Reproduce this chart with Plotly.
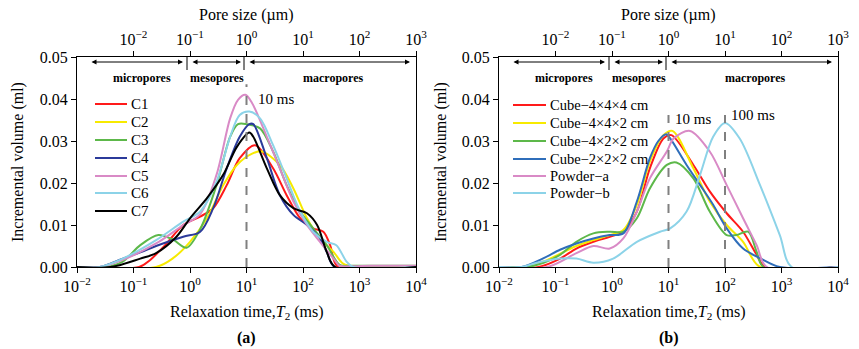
import plotly.graph_objects as go

W, H = 859, 349
FONT = "Liberation Serif"

# ---------------- data: panel (a) ----------------
a_names = ["C1", "C2", "C3", "C4", "C5", "C6", "C7"]
a_colors = ["#FF1A1A", "#F7EA00", "#5DB84A", "#2B3A9A", "#D98AC6", "#8CD3E8", "#000000"]

c1_logt2 = [-2, -0.9, -0.72, -0.44, -0.12, 0.18, 0.41, 0.65, 0.88, 1.15, 1.47, 1.71, 1.95, 2.18, 2.36, 2.48, 2.62, 4]
c1_vol = [0, 0, 0.0015, 0.0052, 0.010, 0.012, 0.014, 0.0195, 0.0259, 0.029, 0.0235, 0.0171, 0.0116, 0.0092, 0.0084, 0.0052, 0, 0]

c2_logt2 = [-2, -0.6, -0.3, 0.0, 0.3, 0.59, 0.83, 1.1, 1.27, 1.59, 1.83, 2.07, 2.3, 2.54, 2.71, 2.9, 4]
c2_vol = [0, 0, 0.0021, 0.006, 0.0116, 0.0195, 0.0243, 0.027, 0.0275, 0.0243, 0.0187, 0.0116, 0.0068, 0.0036, 0.0008, 0, 0]

c3_logt2 = [-2, -1.5, -1.19, -0.88, -0.56, -0.3, -0.06, 0.18, 0.47, 0.71, 0.85, 1.0, 1.24, 1.47, 1.71, 1.95, 2.18, 2.42, 2.65, 2.85, 3.2, 4]
c3_vol = [0, 0, 0.0013, 0.0052, 0.0076, 0.0065, 0.0046, 0.009, 0.0195, 0.031, 0.034, 0.034, 0.033, 0.0275, 0.0195, 0.0132, 0.0092, 0.0052, 0.0005, 0.0003, 0.0003, 0.0003]

c4_logt2 = [-2, -1.6, -1.19, -0.88, -0.6, -0.12, 0.18, 0.41, 0.65, 0.88, 1.05, 1.12, 1.36, 1.59, 1.83, 2.07, 2.3, 2.42, 2.56, 4]
c4_vol = [0, 0, 0.002, 0.0035, 0.005, 0.0072, 0.0084, 0.014, 0.0235, 0.031, 0.034, 0.034, 0.0259, 0.0171, 0.0124, 0.010, 0.0068, 0.0036, 0, 0]

c5_logt2 = [-2, -1.6, -1.19, -0.6, -0.12, 0.18, 0.47, 0.71, 0.85, 0.98, 1.1, 1.36, 1.59, 1.83, 2.07, 2.3, 2.54, 2.65, 2.9, 3.2, 4]
c5_vol = [0, 0, 0.0017, 0.0056, 0.010, 0.0126, 0.022, 0.0354, 0.0398, 0.041, 0.039, 0.031, 0.0235, 0.0156, 0.010, 0.006, 0.002, 0.0003, 0.0002, 0.0003, 0.0003]

c6_logt2 = [-2, -1.6, -1.19, -0.6, -0.12, 0.18, 0.47, 0.71, 0.88, 1.05, 1.24, 1.47, 1.71, 1.95, 2.18, 2.42, 2.59, 2.77, 2.89, 4]
c6_vol = [0, 0, 0.002, 0.0064, 0.0108, 0.0132, 0.0203, 0.031, 0.0362, 0.037, 0.0354, 0.029, 0.0211, 0.0132, 0.0084, 0.006, 0.0052, 0.0013, 0, 0]

c7_logt2 = [-2, -1.4, -0.88, -0.6, -0.24, 0.0, 0.3, 0.59, 0.83, 1.05, 1.12, 1.36, 1.59, 1.83, 2.07, 2.25, 2.42, 2.57, 4]
c7_vol = [0, 0, 0.002, 0.0033, 0.0072, 0.0116, 0.0164, 0.022, 0.0286, 0.032, 0.031, 0.0235, 0.0171, 0.014, 0.0128, 0.010, 0.0036, 0, 0]

a_logt2 = [c1_logt2, c2_logt2, c3_logt2, c4_logt2, c5_logt2, c6_logt2, c7_logt2]
a_vol = [c1_vol, c2_vol, c3_vol, c4_vol, c5_vol, c6_vol, c7_vol]

# ---------------- data: panel (b) ----------------
b_names = ["Cube\u22124\u00d74\u00d74 cm", "Cube\u22124\u00d74\u00d72 cm", "Cube\u22124\u00d72\u00d72 cm",
           "Cube\u22122\u00d72\u00d72 cm", "Powder\u2212a", "Powder\u2212b"]
b_colors = ["#FF1A1A", "#F7EA00", "#5DB84A", "#2F6EBA", "#D98AC6", "#8CD3E8"]

b1_logt2 = [-2, -1.3, -0.92, -0.63, -0.33, -0.04, 0.2, 0.44, 0.67, 0.91, 1.05, 1.44, 1.73, 2.03, 2.32, 2.56, 2.71, 4]
b1_vol = [0, 0, 0.002, 0.0044, 0.006, 0.0072, 0.0084, 0.0132, 0.0235, 0.0306, 0.0314, 0.0243, 0.018, 0.0128, 0.0084, 0.0029, 0, 0]

b2_logt2 = [-2, -1.5, -1.21, -0.63, -0.33, -0.04, 0.2, 0.44, 0.67, 0.91, 1.07, 1.44, 1.73, 2.03, 2.32, 2.62, 4]
b2_vol = [0, 0, 0.0013, 0.005, 0.0064, 0.0076, 0.0088, 0.0148, 0.0251, 0.0314, 0.0324, 0.0235, 0.0156, 0.010, 0.006, 0, 0]

b3_logt2 = [-2, -1.5, -1.21, -0.92, -0.63, -0.33, -0.04, 0.2, 0.44, 0.67, 0.97, 1.14, 1.44, 1.73, 2.03, 2.2, 2.41, 2.56, 2.68, 4]
b3_vol = [0, 0, 0.001, 0.0029, 0.006, 0.008, 0.0084, 0.0084, 0.0116, 0.0187, 0.0243, 0.0249, 0.0211, 0.0132, 0.0076, 0.0076, 0.0084, 0.0036, 0, 0]

b4_logt2 = [-2, -1.6, -1.21, -0.92, -0.63, -0.33, -0.04, 0.2, 0.44, 0.67, 0.82, 0.96, 1.03, 1.32, 1.56, 1.79, 2.03, 2.32, 2.62, 2.97, 4]
b4_vol = [0, 0, 0.0021, 0.0041, 0.0056, 0.0068, 0.0076, 0.008, 0.0156, 0.0259, 0.030, 0.0316, 0.0306, 0.0243, 0.0195, 0.0148, 0.0092, 0.0044, 0.0021, 0, 0]

b5_logt2 = [-2, -1.15, -0.63, -0.33, -0.04, 0.2, 0.44, 0.67, 0.97, 1.09, 1.38, 1.73, 2.03, 2.32, 2.56, 2.74, 4]
b5_vol = [0, 0, 0.0033, 0.005, 0.0044, 0.0068, 0.0132, 0.0211, 0.0275, 0.0306, 0.0324, 0.0275, 0.0195, 0.0116, 0.0052, 0, 0]

b6_logt2 = [-2, -1.6, -1.33, -0.92, -0.63, -0.33, 0.02, 0.44, 0.85, 1.03, 1.32, 1.56, 1.79, 2.0, 2.26, 2.62, 2.97, 3.18, 4]
b6_vol = [0, 0, 0.001, 0.002, 0.002, 0.001, 0.002, 0.006, 0.0084, 0.0092, 0.0132, 0.022, 0.031, 0.0343, 0.0306, 0.0195, 0.0076, 0, 0]

b_logt2 = [b1_logt2, b2_logt2, b3_logt2, b4_logt2, b5_logt2, b6_logt2]
b_vol = [b1_vol, b2_vol, b3_vol, b4_vol, b5_vol, b6_vol]

# ---------------- axes ticks ----------------
t2_ticks = [1e-2, 1e-1, 1e0, 1e1, 1e2, 1e3, 1e4]
t2_ticktext = ["10<sup>\u22122</sup>", "10<sup>\u22121</sup>", "10<sup>0</sup>", "10<sup>1</sup>",
               "10<sup>2</sup>", "10<sup>3</sup>", "10<sup>4</sup>"]
pore_ticks = [1e-2, 1e-1, 1e0, 1e1, 1e2, 1e3]
pore_ticktext = ["10<sup>\u22122</sup>", "10<sup>\u22121</sup>", "10<sup>0</sup>", "10<sup>1</sup>",
                 "10<sup>2</sup>", "10<sup>3</sup>"]
vol_ticks = [0, 0.01, 0.02, 0.03, 0.04, 0.05]
vol_ticktext = ["0.00", "0.01", "0.02", "0.03", "0.04", "0.05"]
ref_lines_a = [10]
ref_lines_b = [10, 100]

fig = go.Figure()

for name, col, lx, v in zip(a_names, a_colors, a_logt2, a_vol):
    fig.add_trace(go.Scatter(x=[10 ** e for e in lx], y=v, mode="lines", name=name,
                             line=dict(color=col, width=2, shape="spline", smoothing=0.9),
                             xaxis="x", yaxis="y", showlegend=False, hoverinfo="skip"))
for name, col, lx, v in zip(b_names, b_colors, b_logt2, b_vol):
    fig.add_trace(go.Scatter(x=[10 ** e for e in lx], y=v, mode="lines", name=name,
                             line=dict(color=col, width=2, shape="spline", smoothing=0.9),
                             xaxis="x2", yaxis="y2", showlegend=False, hoverinfo="skip"))
# empty traces so that the top (pore size) axes are drawn
fig.add_trace(go.Scatter(x=[None], y=[None], xaxis="x3", yaxis="y", showlegend=False, hoverinfo="skip"))
fig.add_trace(go.Scatter(x=[None], y=[None], xaxis="x4", yaxis="y2", showlegend=False, hoverinfo="skip"))

def px(x):
    return x / W

def py(y):
    return 1 - y / H

L0, L1 = 77, 416
R0, R1 = 499, 838
TOP, BOT = 57, 267

tickfont = dict(family=FONT, size=16, color="black")
common_x = dict(type="log", showgrid=False, zeroline=False, showline=True, linecolor="black",
                linewidth=1, ticks="outside", ticklen=5, tickcolor="black", tickfont=tickfont,
                automargin=False)
common_y = dict(range=[0, 0.05], tickvals=vol_ticks, ticktext=vol_ticktext, showgrid=False,
                zeroline=False, showline=True, linecolor="black", linewidth=1, mirror=True,
                ticks="outside", ticklen=5, tickcolor="black", tickfont=tickfont, automargin=False)

fig.update_layout(
    width=W, height=H, margin=dict(l=0, r=0, t=0, b=0, autoexpand=False),
    paper_bgcolor="white", plot_bgcolor="white",
    xaxis=dict(domain=[px(L0), px(L1)], range=[-2, 4], tickvals=t2_ticks, ticktext=t2_ticktext,
               anchor="y", mirror=True, **common_x),
    yaxis=dict(domain=[py(BOT), py(TOP)], anchor="x", **common_y),
    xaxis2=dict(domain=[px(R0), px(R1)], range=[-2, 4], tickvals=t2_ticks, ticktext=t2_ticktext,
                anchor="y2", mirror=True, **common_x),
    yaxis2=dict(domain=[py(BOT), py(TOP)], anchor="x2", **common_y),
    xaxis3=dict(overlaying="x", side="top", anchor="y", range=[-3, 3], tickvals=pore_ticks,
                ticktext=pore_ticktext, **common_x),
    xaxis4=dict(overlaying="x2", side="top", anchor="y2", range=[-3, 3], tickvals=pore_ticks,
                ticktext=pore_ticktext, **common_x),
)

shapes = []
annotations = []

def text(x, y, s, size=16, bold=False, angle=0, xanchor="center"):
    if bold:
        s = "<b>" + s + "</b>"
    annotations.append(dict(x=px(x), y=py(y), xref="paper", yref="paper", text=s, showarrow=False,
                            font=dict(family=FONT, size=size, color="black"), textangle=angle,
                            xanchor=xanchor, yanchor="middle"))

# titles
for cx, ylx, lab in [((L0 + L1) / 2, 18, "(a)"), ((R0 + R1) / 2, 441, "(b)")]:
    text(cx, 15, "Pore size (\u00b5m)")
    text(cx, 312, "Relaxation time,<i>T</i><sub>2</sub> (ms)")
    text(cx, 338, lab, bold=True)
    text(ylx, (TOP + BOT) / 2, "Incremental volume (ml)", angle=-90)

# pore-class arrows and labels
def arrow(x0, x1, y):
    annotations.append(dict(x=px(x1), y=py(y), xref="paper", yref="paper", ax=-(x1 - x0), ay=0,
                            text="", showarrow=True, arrowhead=2, startarrowhead=2,
                            arrowside="end+start", arrowsize=1, arrowwidth=1, arrowcolor="black"))

def vline(x, y0, y1):
    shapes.append(dict(type="line", xref="paper", yref="paper", x0=px(x), x1=px(x), y0=py(y0),
                       y1=py(y1), line=dict(color="black", width=1)))

for off in [0, R0 - L0]:
    arrow(90 + off, 183 + off, 62)
    arrow(191 + off, 241 + off, 62)
    arrow(248 + off, 410 + off, 62)
    vline(187 + off, 57, 70)
    vline(244 + off, 57, 70)
    text(142 + off, 78, "micropores", size=12, bold=True)
    text(217 + off, 78, "mesopores", size=12, bold=True)
    text(333 + off, 78, "macropores", size=12, bold=True)

# dashed reference lines
for xv in ref_lines_a:
    shapes.append(dict(type="line", xref="x", yref="y", x0=xv, x1=xv, y0=0, y1=0.0435,
                       line=dict(color="#808080", width=2, dash="dash")))
for xv in ref_lines_b:
    shapes.append(dict(type="line", xref="x2", yref="y2", x0=xv, x1=xv, y0=0, y1=0.0362,
                       line=dict(color="#808080", width=2, dash="dash")))
text(276, 99, "10 ms", size=15)
text(693, 119, "10 ms", size=15)
text(753, 115, "100 ms", size=15)

# manual legends
a_leg_y = [104, 122, 140, 158, 176, 193, 211]
for nm, col, yy in zip(a_names, a_colors, a_leg_y):
    shapes.append(dict(type="line", xref="paper", yref="paper", x0=px(95), x1=px(127), y0=py(yy),
                       y1=py(yy), line=dict(color=col, width=2)))
    text(129, yy, nm, size=15, xanchor="left")
b_leg_y = [105, 123, 141, 159, 176, 193]
for nm, col, yy in zip(b_names, b_colors, b_leg_y):
    shapes.append(dict(type="line", xref="paper", yref="paper", x0=px(513), x1=px(546), y0=py(yy),
                       y1=py(yy), line=dict(color=col, width=2)))
    text(548, yy, nm, size=14.5, xanchor="left")

fig.update_layout(shapes=shapes, annotations=annotations)
fig.write_html("out.html")
